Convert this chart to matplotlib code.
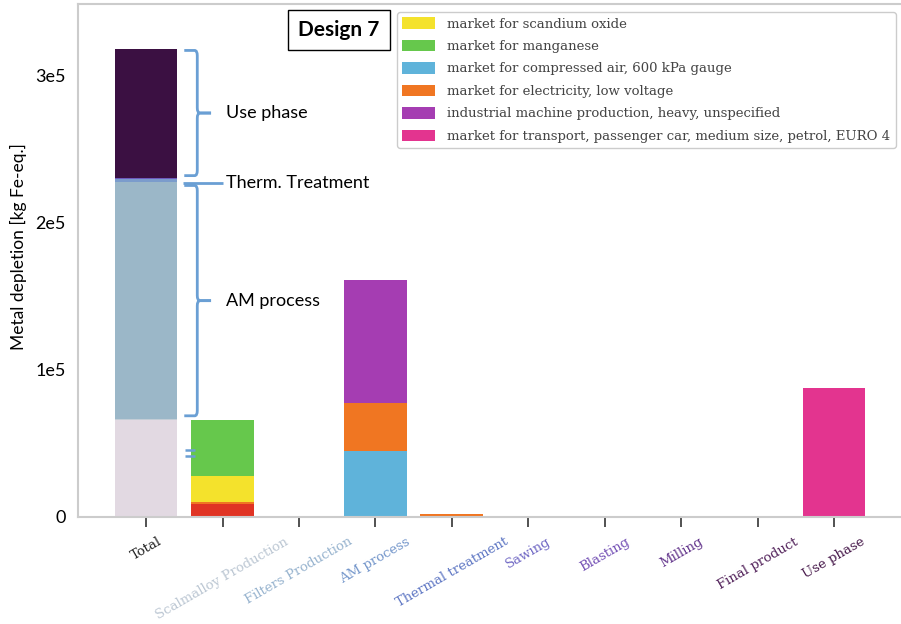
import numpy as np
import matplotlib.pyplot as plt
from matplotlib.path import Path
from matplotlib.patches import PathPatch, Patch

# Life-cycle stages (x axis) and the total column in front of them
stages = ["Scalmalloy Production", "Filters Production", "AM process",
          "Thermal treatment", "Sawing", "Blasting", "Milling",
          "Final product", "Use phase"]

# Metal depletion per background process and stage [kg Fe-eq.]
other_metals = [8500, 0, 0, 0, 0, 0, 0, 0, 0]
compressed_air = [0, 0, 44800, 0, 0, 0, 0, 0, 0]
electricity = [2000, 0, 32400, 1800, 0, 600, 0, 0, 0]
scandium = [17500, 0, 0, 0, 0, 0, 0, 0, 0]
manganese = [38000, 700, 0, 0, 0, 0, 0, 0, 0]
machine = [0, 0, 83700, 0, 150, 0, 150, 0, 0]
transport = [0, 0, 0, 0, 0, 0, 0, 0, 87500]

flows = [
    (other_metals, "#e03424", None),
    (compressed_air, "#5fb3da", "market for compressed air, 600 kPa gauge"),
    (electricity, "#f07622", "market for electricity, low voltage"),
    (scandium, "#f4e22c", "market for scandium oxide"),
    (manganese, "#66c84c", "market for manganese"),
    (machine, "#a53db2", "industrial machine production, heavy, unspecified"),
    (transport, "#e3348f", "market for transport, passenger car, medium size, petrol, EURO 4"),
]
legend_order = ["market for scandium oxide", "market for manganese",
                "market for compressed air, 600 kPa gauge",
                "market for electricity, low voltage",
                "industrial machine production, heavy, unspecified",
                "market for transport, passenger car, medium size, petrol, EURO 4"]

# stage colours: segments of the total column and tick labels
segment_cols = ["#e2d9e2", "#c3cdd6", "#9bb7c8", "#7b9ccc", "#6c7fc8",
                "#6d5bbd", "#6a3e98", "#58275f", "#3b1042"]
label_cols = ["#bcc7d3", "#98b4cf", "#7597cb", "#6078c4", "#7068c4",
              "#7552b6", "#63358c", "#54245c", "#47194b"]

SANS = "Lato"
SERIF = "DejaVu Serif"
BRACE = "#6a9fd4"
BAR_W = 0.82

fig = plt.figure(figsize=(9.01, 6.24), dpi=100)
ax = fig.add_axes([0.0866, 0.1715, 0.918, 0.822])

x = np.arange(1, len(stages) + 1)
stage_tot = np.zeros(len(stages))
for vals, col, _ in flows:
    vals = np.array(vals, dtype=float)
    ax.bar(x, vals, BAR_W, bottom=stage_tot, color=col, linewidth=0)
    stage_tot += vals

# Total column: one segment per stage
starts = np.concatenate([[0], np.cumsum(stage_tot)[:-1]])
ax.bar(np.zeros(len(stages)), stage_tot, BAR_W, bottom=starts,
       color=segment_cols, linewidth=0)

ax.set_xlim(-0.89, 9.93)
ax.set_ylim(0, 348300)
ax.set_yticks([0, 1e5, 2e5, 3e5])
ax.set_yticklabels(["0", "1e5", "2e5", "3e5"], fontsize=13, family=SANS)
ax.tick_params(axis="y", length=0, pad=9)
ax.set_xticks(np.arange(len(stages) + 1))
ax.set_xticklabels(["Total"] + stages, rotation=30, ha="center",
                   fontsize=9.5, family=SERIF)
ax.tick_params(axis="x", length=7, width=1.2, color="#333333", pad=6)
for lab, col in zip(ax.get_xticklabels(), ["#222222"] + label_cols):
    lab.set_color(col)
for sp in ax.spines.values():
    sp.set_color("#cccccc")
    sp.set_linewidth(1.5)

fig.text(18 / 901, 1 - 247 / 624, "Metal depletion [kg Fe-eq.]", rotation=90,
         ha="center", va="center", fontsize=12.5, family=SANS)


def brace(y_lo, y_hi, x0=0.50, x1=0.67, x2=0.85, rx=0.035, ry=3500):
    ym = (y_lo + y_hi) / 2
    for y_end, s in [(y_hi, -1), (y_lo, 1)]:
        verts = [(x0, y_end), (x1 - rx, y_end), (x1, y_end), (x1, y_end + s * ry),
                 (x1, ym - s * ry), (x1, ym), (x1 + rx, ym), (x2, ym)]
        codes = [Path.MOVETO, Path.LINETO, Path.CURVE3, Path.CURVE3,
                 Path.LINETO, Path.CURVE3, Path.CURVE3, Path.LINETO]
        ax.add_patch(PathPatch(Path(verts, codes), fill=False, edgecolor=BRACE,
                               linewidth=2, capstyle="butt", clip_on=False))
    return ym


cum = np.cumsum(stage_tot)
ym = brace(cum[7] + 1500, cum[8] - 1000)
ax.text(1.05, ym, "Use phase", fontsize=13, family=SANS, va="center")
ym = brace(cum[1] + 2000, cum[2] - 2500)
ax.text(1.05, ym, "AM process", fontsize=13, family=SANS, va="center")
y_tt = cum[2] - 600
ax.plot([0.48, 1.0], [y_tt, y_tt], color=BRACE, lw=2, solid_capstyle="butt")
ax.text(1.05, y_tt, "Therm. Treatment", fontsize=13, family=SANS, va="center")
for yy in (41500, 45500):
    ax.plot([0.51, 0.64], [yy, yy], color=BRACE, lw=1.8, solid_capstyle="butt")

fig.text(339 / 901, 1 - 30 / 624, "Design 7", ha="center", va="center",
         fontsize=15, fontweight="bold", family=SANS,
         bbox=dict(boxstyle="square,pad=0.5", facecolor="white",
                   edgecolor="black", linewidth=1))

handles = {lab: Patch(facecolor=col, edgecolor="none") for _, col, lab in flows if lab}
leg = ax.legend([handles[k] for k in legend_order], legend_order,
                loc="upper left", bbox_to_anchor=(397 / 901, 1 - 12 / 624),
                bbox_transform=fig.transFigure, borderaxespad=0,
                prop=dict(family=SERIF, size=9.5),
                handlelength=2.5, handleheight=0.95, labelspacing=0.7,
                handletextpad=0.9, borderpad=0.4, fancybox=True, framealpha=1,
                edgecolor="#cccccc")
for t in leg.get_texts():
    t.set_color("#444444")

fig.savefig("out.png", dpi=100)
